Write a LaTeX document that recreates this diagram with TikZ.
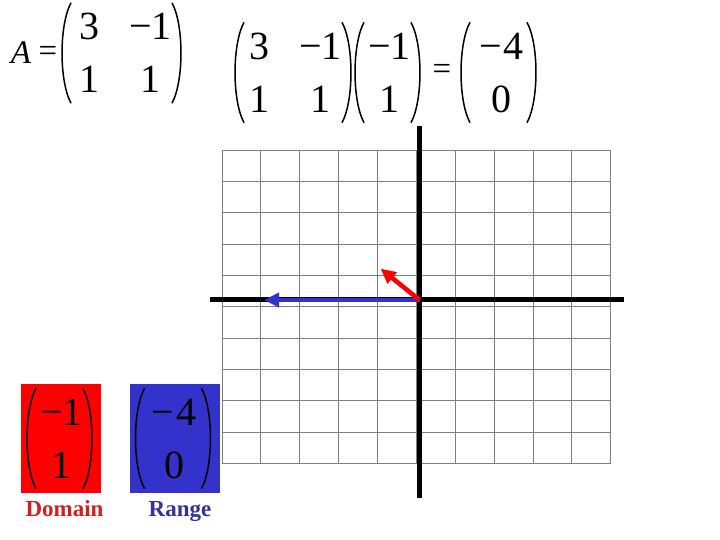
\documentclass[tikz,border=0pt]{standalone}
\usepackage{fontspec}
\setmainfont{Liberation Serif}
\usetikzlibrary{matrix,arrows.meta}

\definecolor{rangeblue}{RGB}{51,51,204}
\definecolor{domainred}{RGB}{204,34,34}
\definecolor{rangetext}{RGB}{51,51,153}

\begin{document}
\begin{tikzpicture}[x=1pt,y=1pt,font=\fontsize{40}{48}\selectfont]

	\tikzstyle grid lines=[black!50, line width=0.8pt];
	\tikzstyle axis lines=[line width=5pt];
	\tikzstyle vector=[line width=4.6pt, -{Triangle[length=15pt,width=14pt]}];
	\tikzstyle entries=[matrix of nodes, inner sep=0pt, row sep=26pt, column sep=30pt, nodes={inner sep=0pt, text height=27pt, text depth=0pt}];
	\tikzstyle paren=[line width=1.5pt];
	\tikzstyle lparen=[paren, to path={.. controls +(-12,-22) and +(-12,22) .. (\tikztotarget)}];
	\tikzstyle rparen=[paren, to path={.. controls +(12,-22) and +(12,22) .. (\tikztotarget)}];
	\tikzstyle caption text=[font=\fontsize{23}{28}\selectfont\bfseries, anchor=base];

	\useasboundingbox (0,0) rectangle (720,540);
	\fill[white] (0,0) rectangle (720,540);

	% A = ...
	\node[font=\fontsize{33}{40}\selectfont] (lhs) at (21,487) {\itshape A};
	\node[font=\fontsize{33}{40}\selectfont] (eqa) at (48,486.5) {=};
	\matrix (amat) [entries] at (125.5,487) {3 & −1\\ 1 & 1\\};
	\draw[lparen] ([shift={(-8,10)}]amat.north west) to ([shift={(-8,-10)}]amat.south west);
	\draw[rparen] ([shift={(0,10)}]amat.north east) to ([shift={(0,-10)}]amat.south east);

	% product
	\matrix (bmat) [entries] at (295.5,467.5) {3 & −1\\ 1 & 1\\};
	\draw[lparen] ([shift={(-5,10)}]bmat.north west) to ([shift={(-5,-10)}]bmat.south west);
	\draw[rparen] ([shift={(0,10)}]bmat.north east) to ([shift={(0,-10)}]bmat.south east);
	\matrix (xvec) [entries] at (389.5,467.5) {−1\\ 1\\};
	\draw[lparen] ([shift={(-4,10)}]xvec.north west) to ([shift={(-4,-10)}]xvec.south west);
	\draw[rparen] ([shift={(0,10)}]xvec.north east) to ([shift={(0,-10)}]xvec.south east);
	\node[font=\fontsize{33}{40}\selectfont] (eqb) at (442,468) {=};
	\matrix (axvec) [entries] at (501.5,467.5) {−\kern2pt 4\\ 0\\};
	\draw[lparen] ([shift={(-9,10)}]axvec.north west) to ([shift={(-9,-10)}]axvec.south west);
	\draw[rparen] ([shift={(3,10)}]axvec.north east) to ([shift={(3,-10)}]axvec.south east);

	% domain and range
	\fill[red] (20.7,47.3) rectangle (100.7,156);
	\fill[rangeblue] (130,47.3) rectangle (220,156);
	\matrix (dvec) [entries] at (61.5,101.5) {−1\\ 1\\};
	\draw[lparen] ([shift={(-4,10)}]dvec.north west) to ([shift={(-4,-10)}]dvec.south west);
	\draw[rparen] ([shift={(0,10)}]dvec.north east) to ([shift={(0,-10)}]dvec.south east);
	\matrix (rvec) [entries] at (174,101.5) {−\kern2pt 4\\ 0\\};
	\draw[lparen] ([shift={(-7,10)}]rvec.north west) to ([shift={(-7,-10)}]rvec.south west);
	\draw[rparen] ([shift={(5,10)}]rvec.north east) to ([shift={(5,-10)}]rvec.south east);
	\node[caption text, domainred] (domain) at (64.5,23.3) {Domain};
	\node[caption text, rangetext] (range) at (180,23.3) {Range};

	% plane
	\begin{scope}[shift={(419.5,240)}, x=38.87pt, y=31.33pt]
		\draw[grid lines, shift={(-0.081,-0.212)}] (-5,-5) grid[step=1] (5,5);
		\coordinate (o) at (0,0);
		\coordinate (west end) at (-5.39,0);
		\coordinate (east end) at (5.26,0);
		\coordinate (north end) at (0,5.55);
		\coordinate (south end) at (0,-6.32);
		\coordinate (x) at (-1,1);
		\coordinate (ax) at (-4,0);
		\draw[axis lines] (west end) -- (east end);
		\draw[axis lines] (north end) -- (south end);
		\draw[vector, rangeblue] (o) -- (ax);
		\draw[vector, red] (o) -- (x);
	\end{scope}

\end{tikzpicture}
\end{document}
